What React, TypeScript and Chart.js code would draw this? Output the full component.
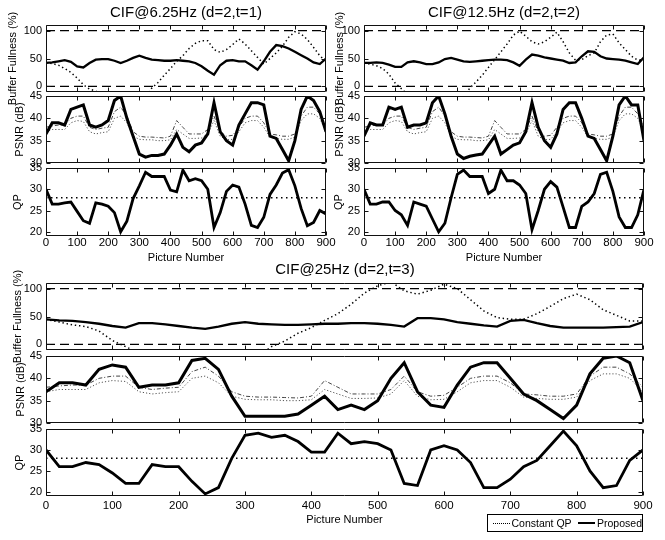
import React, { useEffect, useRef } from "react";
import { Chart, registerables } from "chart.js";
Chart.register(...registerables);

Chart.defaults.font.family = '"Liberation Sans", Arial, Helvetica, sans-serif';
Chart.defaults.color = "#000";

// ---------------- data ----------------
const frames = [
  0, 20, 40, 60, 80, 100, 120, 140, 160, 180,
  200, 220, 240, 260, 280, 300, 320, 340, 360, 380,
  400, 420, 440, 460, 480, 500, 520, 540, 560, 580,
  600, 620, 640, 660, 680, 700, 720, 740, 760, 780,
  800, 820, 840, 860, 880, 900,
];
const xTicks = [0, 100, 200, 300, 400, 500, 600, 700, 800, 900];
const bufTicks = [0, 50, 100];
const psnrTicks = [30, 35, 40, 45];
const qpTicks = [20, 25, 30, 35];
const bufferLimits = [0, 100];
const constantQP = 28;

const groupTitles = ["CIF@6.25Hz (d=2,t=1)", "CIF@12.5Hz (d=2,t=2)", "CIF@25Hz (d=2,t=3)"];
const legendLabels = ["Constant QP", "Proposed"];

// 6.25 Hz
const g1BufProp = [
  42, 43, 45, 47, 44, 36, 34, 42, 48, 49,
  49, 46, 42, 46, 51, 55, 51, 48, 47, 46,
  46, 47, 46, 45, 42, 36, 28, 21, 38, 46,
  47, 45, 45, 38, 30, 45, 62, 74, 72, 68,
  62, 56, 50, 43, 40, 50,
];
const g1BufConst = [
  42, 41, 38, 32, 25, 15, 3, -5, -8, -20,
  -20, -20, -20, -20, -20, -20, -20, -3, 7, 20,
  32, 45, 55, 68, 77, 82, 82, 66, 61, 66,
  75, 85, 76, 64, 52, 40, 50, 60, 72, 88,
  98, 94, 84, 70, 55, 45,
];
const g1Psnr = [
  36.5, 39, 39, 38.5, 42, 42.5, 43, 38.5, 38, 38.5,
  39.5, 44, 45, 40, 36, 32, 31.3, 31.7, 31.7, 32,
  34, 36.5, 33.5, 32.5, 34, 34.5, 36.5, 43.5, 37, 35,
  34, 38.5, 41, 43.5, 43.5, 43, 36, 35.5, 33, 30.5,
  35, 42, 45, 44, 41.5, 37,
];
const g1Qp = [
  30, 26.5, 26.5, 26.8, 27, 24.8, 22.6, 22, 26.8, 26.5,
  26, 24.5, 20, 22.5, 27.8, 30.8, 34, 33, 33, 33,
  29.8, 29.4, 34.5, 32, 32.5, 32, 30, 21, 24.5, 29.5,
  31, 30.5, 26.5, 21.5, 21, 23.4, 28.8, 31, 33.8, 34.6,
  30.8, 25.5, 21.4, 22.2, 25, 24.2,
];

// 12.5 Hz
const g2BufProp = [
  42, 42, 43, 42, 39, 35, 35, 43, 45, 43,
  40, 40, 43, 49, 51, 48, 45, 44, 45, 46,
  47, 48, 48, 47, 43, 37, 48, 57, 55, 52,
  50, 48, 46, 42, 43, 54, 63, 62, 54, 50,
  49, 48, 46, 43, 40, 52,
];
const g2BufConst = [
  42, 40, 37, 32, 22, 6, -4, -15, -20, -20,
  -20, -20, -20, -20, -20, -20, -20, -3, 8, 20,
  34, 48, 62, 76, 92, 99, 90, 80, 76, 80,
  88, 97, 80, 60, 47, 48, 55, 60, 80, 92,
  94, 78, 66, 54, 47, 45,
];
const g2Psnr = [
  36, 39, 38.5, 38.5, 42.5, 42, 42.5, 38, 38.5, 38.5,
  39, 43.5, 45, 41, 36, 32, 31, 31.5, 31.8, 32,
  34, 36, 32, 33, 34, 34.5, 37, 43.5, 38, 35,
  33.5, 36.5, 42, 43.5, 43.5, 40, 36, 35.5, 33, 30.5,
  36, 43, 45, 43, 43, 35,
];
const g2Qp = [
  30, 26.5, 26.5, 27, 27, 25, 24, 21.5, 27, 26.5,
  26, 23, 20, 22, 28, 33.5, 34.5, 33, 33, 33,
  29, 30, 34.5, 32, 32, 31, 29, 20.5, 25, 30,
  31.8, 30.5, 25.8, 21, 21, 26, 27, 29, 33.5, 34,
  29.5, 23.5, 21, 21, 24, 30,
];

// 25 Hz
const g3BufProp = [
  45, 43, 42, 40, 37, 33, 30, 38, 38, 36,
  33, 30, 28, 32, 37, 40, 37, 36, 35, 35,
  36, 37, 37, 38, 38, 37, 35, 32, 47, 47,
  45, 40, 37, 34, 32, 42, 44, 38, 33, 30,
  30, 30, 30, 31, 32, 40,
];
const g3BufConst = [
  45, 40, 35, 32, 24, 7, -4, -15, -20, -20,
  -20, -20, -20, -20, -20, -20, -20, -4, 6, 20,
  30, 43, 55, 72, 92, 105, 112, 96, 90, 97,
  108, 100, 80, 60, 48, 45, 45, 55, 68, 82,
  90, 80, 62, 52, 42, 42,
];
const g3Psnr = [
  37, 39, 39, 38.5, 42, 43, 42.5, 38, 38.5, 38.5,
  39, 44, 44.5, 42, 36, 31.5, 31.5, 31.5, 31.5, 32,
  34, 36, 33, 34, 33, 35, 40, 43.5, 37, 34,
  33.5, 38.5, 42.5, 43.5, 43.5, 40, 36.5, 35, 33, 31,
  34, 41, 44.5, 45, 43.5, 35,
];
const g3Qp = [
  30, 26, 26, 27, 26.5, 24.5, 22, 22, 26.5, 26,
  26, 22.5, 19.5, 21, 28, 33.5, 34, 33, 33.5, 32,
  29.5, 29.5, 34, 31.5, 32, 31.5, 30, 22, 21.5, 30,
  31, 30, 27, 21, 21, 23, 26, 27.5, 31, 34.5,
  31, 25, 21, 21.5, 27.5, 30,
];

// Constant-QP PSNR (two traces)
const cqPsnrHi = [
  38, 38.3, 38.5, 38.5, 40, 40.5, 40.5, 38, 37.5, 37.8,
  38, 41.5, 42.5, 40.5, 37, 36, 35.8, 35.8, 35.7, 35.6,
  36, 39.5, 38, 36.5, 36.5, 36.5, 37.5, 40.5, 37, 36,
  36.2, 38, 40, 40.5, 40.5, 39, 36.5, 36.3, 36, 36,
  36.5, 40.5, 42.5, 42.5, 41, 38,
];
const cqPsnrLo = [
  37, 37.5, 37.5, 37.5, 39, 39.5, 39.3, 37, 36.5, 36.8,
  37, 40, 40.5, 39, 36, 35.3, 35.2, 35.2, 35, 35,
  35.2, 37.5, 36.5, 35.5, 35.5, 35.6, 36.5, 39.5, 36, 35.2,
  35.3, 37, 39, 39.5, 39.5, 38, 35.8, 35.5, 35.3, 35.3,
  35.8, 39.5, 41, 41, 40, 37,
];

// ---------------- helpers ----------------
const FONT = '"Liberation Sans", Arial, Helvetica, sans-serif';
const Y_W = 46;
const PAD_T = 18;
const PAD_R = 16;

const pts = (vals: number[]) => frames.map((x, i) => ({ x, y: vals[i] }));
const hline = (v: number) => [{ x: xTicks[0], y: v }, { x: xTicks[xTicks.length - 1], y: v }];

const proposed = (vals: number[], w = 2.8) => ({
  data: pts(vals), borderColor: "#000", borderWidth: w, pointRadius: 0, tension: 0,
});
const dotted = (data: any[], w = 1.4, dash = [1.4, 2.6]) => ({
  data, borderColor: "#000", borderWidth: w, borderDash: dash, pointRadius: 0, tension: 0,
});
const dashedLimit = (v: number) => ({
  data: hline(v), borderColor: "#000", borderWidth: 1.1, borderDash: [9, 5], pointRadius: 0,
});

const framePlugin = {
  id: "matlabFrame",
  afterDraw(chart: any) {
    const { ctx, chartArea: a, scales } = chart;
    const o = chart.options.plugins.matlabFrame;
    ctx.save();
    ctx.strokeStyle = "#111";
    ctx.lineWidth = 1;
    ctx.beginPath();
    const L = a.left + 0.5, R = a.right - 0.5, T = a.top + 0.5, B = a.bottom - 0.5;
    ctx.rect(L, T, R - L, B - T);
    const tl = 4;
    for (const v of xTicks) {
      const px = Math.round(scales.x.getPixelForValue(v)) + 0.5;
      ctx.moveTo(px, T); ctx.lineTo(px, T + tl);
      ctx.moveTo(px, B); ctx.lineTo(px, B - tl);
    }
    for (const v of o.yTicks) {
      const py = Math.round(scales.y.getPixelForValue(v)) + 0.5;
      ctx.moveTo(L, py); ctx.lineTo(L + tl, py);
      ctx.moveTo(R, py); ctx.lineTo(R - tl, py);
    }
    ctx.stroke();
    // y title
    ctx.fillStyle = "#000";
    ctx.font = `11px ${FONT}`;
    ctx.textAlign = "center";
    ctx.textBaseline = "middle";
    ctx.translate(o.titleX, (a.top + a.bottom) / 2);
    ctx.rotate(-Math.PI / 2);
    ctx.fillText(o.title, 0, 0);
    ctx.restore();
  },
};

interface PanelDef {
  plotL: number; plotR: number; plotT: number; plotB: number;
  yMin: number; yMax: number; yTicks: number[];
  yTitle: string; yTitleX: number;
  xAxis?: { labelPad: number; titlePad: number };
  datasets: any[];
}

function Panel({ def }: { def: PanelDef }) {
  const ref = useRef<HTMLCanvasElement>(null);
  const XH = def.xAxis ? 32 : 0;
  const left = def.plotL - Y_W;
  const top = def.plotT - PAD_T;
  const padB = def.xAxis ? 2 : 18;
  const width = def.plotR - left + PAD_R;
  const height = PAD_T + (def.plotB - def.plotT) + XH + padB;

  useEffect(() => {
    const chart = new Chart(ref.current!, {
      type: "line",
      data: { datasets: def.datasets },
      plugins: [framePlugin],
      options: {
        animation: false,
        responsive: false,
        devicePixelRatio: 1,
        events: [],
        layout: { padding: { top: PAD_T, right: PAD_R, bottom: padB, left: 0 } },
        plugins: {
          legend: { display: false },
          tooltip: { enabled: false },
          matlabFrame: { yTicks: def.yTicks, title: def.yTitle, titleX: def.yTitleX - left },
        } as any,
        scales: {
          x: {
            type: "linear",
            min: xTicks[0],
            max: xTicks[xTicks.length - 1],
            display: !!def.xAxis,
            grid: { display: false, drawTicks: false, tickLength: 0 },
            border: { display: false },
            afterBuildTicks: (s: any) => { s.ticks = xTicks.map((v) => ({ value: v })); },
            afterFit: (s: any) => { s.height = XH; },
            ticks: {
              font: { size: 11.5, family: FONT }, color: "#000",
              padding: def.xAxis ? def.xAxis.labelPad : 0, maxRotation: 0, autoSkip: false,
            },
            title: {
              display: !!def.xAxis, text: "Picture Number", color: "#000",
              font: { size: 11, family: FONT },
              padding: { top: 0, bottom: def.xAxis ? def.xAxis.titlePad : 0 },
            },
          },
          y: {
            type: "linear",
            min: def.yMin,
            max: def.yMax,
            grid: { display: false, drawTicks: false, tickLength: 0 },
            border: { display: false },
            afterBuildTicks: (s: any) => { s.ticks = def.yTicks.map((v) => ({ value: v })); },
            afterFit: (s: any) => { s.width = Y_W; },
            ticks: { font: { size: 11, family: FONT }, color: "#000", padding: 4 },
          },
        },
      } as any,
    });
    return () => chart.destroy();
  }, []);

  return (
    <canvas
      ref={ref}
      width={width}
      height={height}
      style={{ position: "absolute", left, top, width, height }}
    />
  );
}

function groupPanels(
  plotL: number, plotR: number,
  rows: [number, number][],
  titleXs: [number, number, number],
  xAxis: { labelPad: number; titlePad: number },
  bufProp: number[], bufConst: number[], psnr: number[], qp: number[],
): PanelDef[] {
  return [
    {
      plotL, plotR, plotT: rows[0][0], plotB: rows[0][1],
      yMin: -10, yMax: 110, yTicks: bufTicks, yTitle: "Buffer Fullness (%)", yTitleX: titleXs[0],
      datasets: [
        proposed(bufProp, 2.3),
        dotted(pts(bufConst), 1.5, [1.4, 2.8]),
        ...bufferLimits.map(dashedLimit),
      ],
    },
    {
      plotL, plotR, plotT: rows[1][0], plotB: rows[1][1],
      yMin: 30, yMax: 45, yTicks: psnrTicks, yTitle: "PSNR (dB)", yTitleX: titleXs[1],
      datasets: [
        proposed(psnr, 3),
        { data: pts(cqPsnrHi), borderColor: "#444", borderWidth: 1, borderDash: [4, 2, 1, 2], pointRadius: 0 },
        { data: pts(cqPsnrLo), borderColor: "#555", borderWidth: 1, borderDash: [1.2, 2], pointRadius: 0 },
      ],
    },
    {
      plotL, plotR, plotT: rows[2][0], plotB: rows[2][1],
      yMin: 19, yMax: 35, yTicks: qpTicks, yTitle: "QP", yTitleX: titleXs[2],
      xAxis,
      datasets: [proposed(qp, 2.8), dotted(hline(constantQP), 1.5, [1.5, 3.5])],
    },
  ];
}

const panels: PanelDef[] = [
  ...groupPanels(46, 326, [[25, 92], [96, 163], [168, 236]], [13, 20, 18],
    { labelPad: 0, titlePad: 3 }, g1BufProp, g1BufConst, g1Psnr, g1Qp),
  ...groupPanels(364, 644, [[25, 92], [96, 163], [168, 236]], [340, 340, 339],
    { labelPad: 0, titlePad: 3 }, g2BufProp, g2BufConst, g2Psnr, g2Qp),
  ...groupPanels(46, 643, [[283, 350], [356, 423], [429, 496]], [18, 21, 20],
    { labelPad: 3, titlePad: 1.5 }, g3BufProp, g3BufConst, g3Psnr, g3Qp),
];

const titles = [
  { text: groupTitles[0], cx: 186, cy: 12 },
  { text: groupTitles[1], cx: 504, cy: 12 },
  { text: groupTitles[2], cx: 345, cy: 269 },
];

export default function App() {
  return (
    <div style={{ position: "absolute", left: 0, top: 0, width: 665, height: 540, background: "#fff", overflow: "hidden" }}>
      {panels.map((p, i) => <Panel key={i} def={p} />)}
      {titles.map((t, i) => (
        <div key={"t" + i} style={{
          position: "absolute", left: t.cx - 150, top: t.cy - 9, width: 300, height: 18,
          textAlign: "center", font: `15px ${FONT}`, lineHeight: "18px", color: "#000",
        }}>{t.text}</div>
      ))}
      <div style={{
        position: "absolute", left: 487, top: 514, width: 156, height: 18, boxSizing: "border-box",
        border: "1px solid #000", background: "#fff", display: "flex", alignItems: "center",
        font: `10.5px ${FONT}`, color: "#000", whiteSpace: "nowrap",
      }}>
        <span style={{ display: "inline-block", width: 30, borderTop: "1.5px dotted #000", margin: "0 1px 0 5px" }} />
        <span>{legendLabels[0]}</span>
        <span style={{ display: "inline-block", width: 30, borderTop: "2px solid #000", margin: "0 2px 0 6px" }} />
        <span>{legendLabels[1]}</span>
      </div>
    </div>
  );
}
